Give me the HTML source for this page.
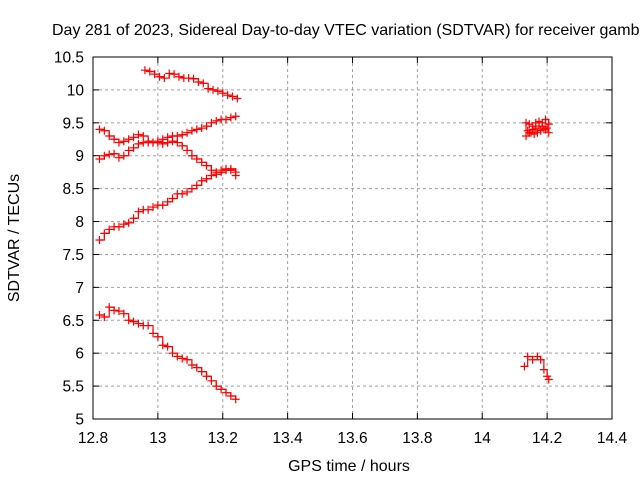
<!DOCTYPE html>
<html><head><meta charset="utf-8"><style>
html,body{margin:0;padding:0;background:#fff;overflow:hidden;}
svg{display:block;font-family:"Liberation Sans",sans-serif;}
</style></head><body>
<svg id="chart" width="640" height="480">
<text x="52" y="35" font-size="16">Day 281 of 2023, Sidereal Day-to-day VTEC variation (SDTVAR) for receiver gamb</text>
<g id="grid"></g>
<g id="axes"></g>
<g id="series"></g>
<text x="349" y="471" font-size="16" text-anchor="middle">GPS time / hours</text>
<text transform="translate(19,238) rotate(-90)" font-size="16" text-anchor="middle">SDTVAR / TECUs</text>
</svg>
<script>
const xTicks=[12.8,13,13.2,13.4,13.6,13.8,14,14.2,14.4];
const yTicks=[5,5.5,6,6.5,7,7.5,8,8.5,9,9.5,10,10.5];
const tA=[12.96,12.975,12.99,13.005,13.02,13.035,13.05,13.065,13.08,13.095,13.11,13.125,13.14,13.155,13.17,13.185,13.2,13.215,13.23,13.245];
const vA=[10.3,10.28,10.24,10.2,10.18,10.25,10.24,10.2,10.18,10.18,10.17,10.12,10.1,10.02,10.0,9.98,9.95,9.92,9.9,9.87];
const tB=[12.82,12.835,12.85,12.865,12.88,12.895,12.91,12.925,12.94,12.955,12.97,12.985,13.0,13.015,13.03,13.045,13.06,13.075,13.09,13.105,13.12,13.135,13.15,13.165,13.18,13.195,13.21,13.225,13.24];
const vB=[9.4,9.38,9.3,9.25,9.2,9.22,9.25,9.28,9.32,9.3,9.22,9.2,9.2,9.18,9.2,9.22,9.2,9.15,9.08,9.0,8.95,8.9,8.85,8.78,8.75,8.78,8.8,8.78,8.7];
const tC=[12.82,12.835,12.85,12.865,12.88,12.895,12.91,12.925,12.94,12.955,12.97,12.985,13.0,13.015,13.03,13.045,13.06,13.075,13.09,13.105,13.12,13.135,13.15,13.165,13.18,13.195,13.21,13.225,13.24];
const vC=[8.95,9.0,9.02,9.03,8.97,9.0,9.08,9.12,9.18,9.2,9.2,9.2,9.22,9.25,9.28,9.3,9.3,9.32,9.35,9.38,9.4,9.42,9.45,9.5,9.53,9.55,9.55,9.58,9.6];
const tD=[12.82,12.835,12.85,12.865,12.88,12.895,12.91,12.925,12.94,12.955,12.97,12.985,13.0,13.015,13.03,13.045,13.06,13.075,13.09,13.105,13.12,13.135,13.15,13.165,13.18,13.195,13.21,13.225,13.24];
const vD=[7.72,7.82,7.88,7.92,7.92,7.96,7.98,8.05,8.15,8.18,8.18,8.22,8.25,8.25,8.3,8.35,8.42,8.42,8.45,8.5,8.55,8.62,8.65,8.7,8.72,8.75,8.78,8.8,8.75];
const tE=[12.82,12.835,12.85,12.865,12.88,12.895,12.91,12.925,12.94,12.955,12.97,12.985,13.0,13.015,13.03,13.045,13.06,13.075,13.09,13.105,13.12,13.135,13.15,13.165,13.18,13.195,13.21,13.225,13.24];
const vE=[6.58,6.55,6.7,6.65,6.64,6.6,6.5,6.48,6.45,6.42,6.42,6.3,6.25,6.12,6.1,6.0,5.95,5.92,5.9,5.82,5.78,5.72,5.65,5.58,5.5,5.45,5.4,5.35,5.3];
const tF=[14.135,14.145,14.155,14.165,14.175,14.185,14.195,14.205,14.2,14.19,14.18,14.17,14.16,14.15,14.14,14.135,14.145,14.155,14.165,14.175,14.185,14.195,14.205];
const vF=[9.3,9.35,9.4,9.42,9.45,9.5,9.55,9.48,9.42,9.4,9.38,9.35,9.33,9.35,9.38,9.5,9.48,9.45,9.5,9.52,9.45,9.4,9.35];
const tG=[14.13,14.14,14.155,14.17,14.18,14.19,14.2,14.205];
const vG=[5.8,5.95,5.9,5.95,5.9,5.75,5.65,5.6];
const seriesT=[tA,tB,tC,tD,tE,tF,tG];
const seriesV=[vA,vB,vC,vD,vE,vF,vG];
const X0=93,X1=612,Y0=419,Y1=57,XMIN=12.8,XMAX=14.4,YMIN=5,YMAX=10.5;
const xs=t=>X0+(t-XMIN)/(XMAX-XMIN)*(X1-X0);
const ys=v=>Y0-(v-YMIN)/(YMAX-YMIN)*(Y0-Y1);
const NS="http://www.w3.org/2000/svg";
function mk(tag,attrs,parent){const e=document.createElementNS(NS,tag);for(const k in attrs)e.setAttribute(k,attrs[k]);parent.appendChild(e);return e;}
const grid=document.getElementById('grid'),axes=document.getElementById('axes'),ser=document.getElementById('series');
xTicks.forEach(t=>{const x=xs(t);
 if(t>XMIN&&t<XMAX){const g=mk('line',{x1:x,y1:Y1,x2:x,y2:Y0,stroke:'#a0a0a0','stroke-dasharray':'3,3'},grid);
 
 }
 mk('line',{x1:x,y1:Y0,x2:x,y2:Y0-6,stroke:'#000'},axes);
 mk('line',{x1:x,y1:Y1,x2:x,y2:Y1+6,stroke:'#000'},axes);
 const l=mk('text',{x:x,y:Y0+24,'font-size':15.5,'text-anchor':'middle'},axes);l.textContent=String(t);
 
 
});
yTicks.forEach(v=>{const y=ys(v);
 if(v>YMIN&&v<YMAX){const g=mk('line',{x1:X0,y1:y,x2:X1,y2:y,stroke:'#a0a0a0','stroke-dasharray':'3,3'},grid);
 
 }
 mk('line',{x1:X0,y1:y,x2:X0+6,y2:y,stroke:'#000'},axes);
 mk('line',{x1:X1,y1:y,x2:X1-6,y2:y,stroke:'#000'},axes);
 const l=mk('text',{x:X0-9,y:y+5.5,'font-size':15.5,'text-anchor':'end'},axes);l.textContent=String(v);
 
 
});
const fr=mk('rect',{x:X0,y:Y1,width:X1-X0,height:Y0-Y1,fill:'none',stroke:'#000'},axes);


seriesT.forEach((T,i)=>{const V=seriesV[i];
 const g=mk('g',{},ser);
 
 
 let d='';
 T.forEach((t,j)=>{const x=xs(t),y=ys(V[j]);
  if(j===0)d+='M'+x+' '+y;else d+=' H'+x+' V'+y;});
 mk('path',{d:d,fill:'none',stroke:'#f00','stroke-width':1.2},g);
 T.forEach((t,j)=>{const x=xs(t),y=ys(V[j]);
  const p=mk('path',{d:`M${x-4} ${y}H${x+4}M${x} ${y-4}V${y+4}`,stroke:'#f00','stroke-width':1.2},g);
  
  
 });
});
</script>
</body></html>
